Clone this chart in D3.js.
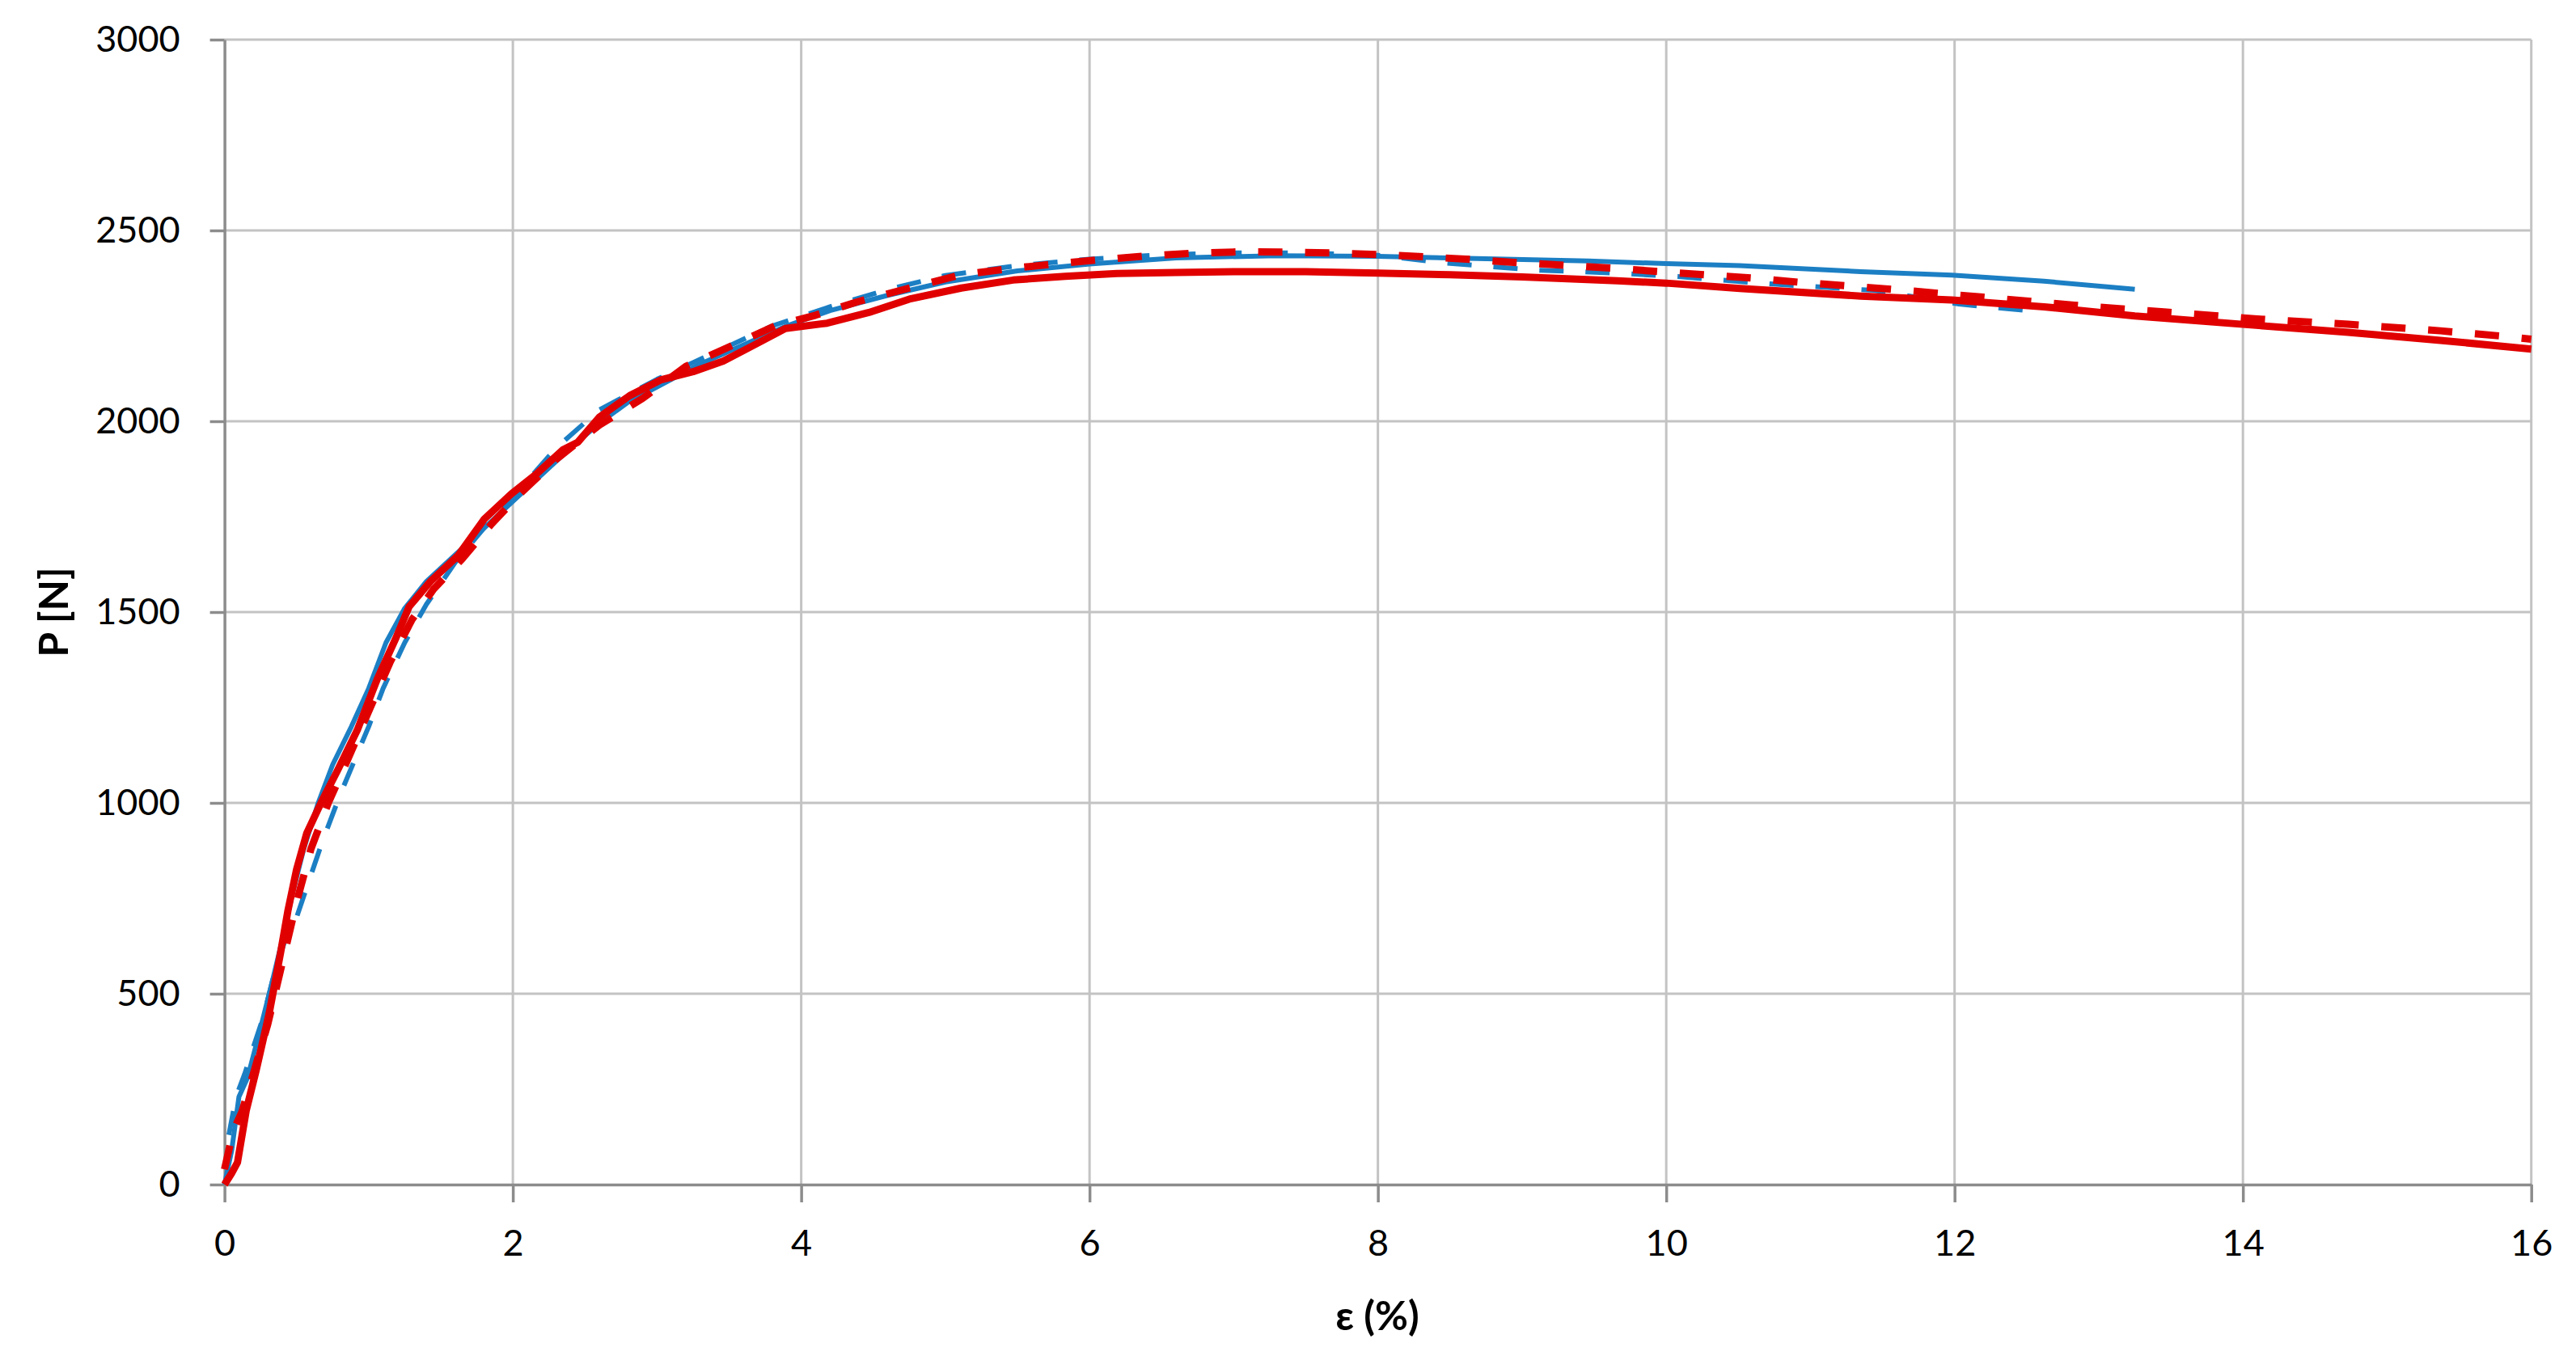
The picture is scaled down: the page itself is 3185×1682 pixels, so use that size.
<!DOCTYPE html>
<html>
<head>
<meta charset="utf-8">
<script src="https://cdn.jsdelivr.net/npm/d3@7"></script>
<style>
  body { margin: 0; background: #fff; }
  svg { display: block; }
  .tick text { font-family: Lato, "Liberation Sans", sans-serif; font-size: 45px; fill: #000; }
  .title { font-family: Lato, "Liberation Sans", sans-serif; font-size: 50px; font-weight: bold; fill: #000; }
</style>
</head>
<body>
<svg id="chart" width="3185" height="1682"></svg>
<script>
// tick values
const xTicks = [0, 2, 4, 6, 8, 10, 12, 14, 16]
const yTicks = [0, 500, 1000, 1500, 2000, 2500, 3000]

// blue solid curve
const blueSolidE = [0, 0.05, 0.1, 0.16, 0.25, 0.33, 0.4, 0.47, 0.55, 0.65, 0.75, 0.88, 1.0, 1.12, 1.25, 1.4, 1.6, 1.8, 2.0, 2.2, 2.4, 2.6, 2.8, 3.0, 3.3, 3.6, 3.9, 4.2, 4.6, 5.0, 5.5, 6.0, 6.6, 7.3, 8.0, 8.75, 9.46, 10.0, 10.51, 11.35, 11.98, 12.62, 13.25]
const blueSolidP = [0, 90, 230, 280, 410, 530, 640, 760, 880, 1000, 1100, 1200, 1300, 1420, 1510, 1580, 1650, 1720, 1790, 1860, 1930, 1995, 2050, 2090, 2150, 2200, 2250, 2290, 2330, 2365, 2394, 2412, 2428, 2434, 2432, 2426, 2420, 2413, 2408, 2392, 2383, 2367, 2346]

// blue dashed curve
const blueDashE = [0.03, 0.08, 0.14, 0.2, 0.27, 0.35, 0.42, 0.5, 0.58, 0.68, 0.8, 0.9, 1.0, 1.1, 1.25, 1.4, 1.6, 1.8, 2.0, 2.3, 2.6, 3.0, 3.4, 3.8, 4.2, 4.6, 5.0, 5.5, 6.0, 6.5, 7.0, 7.5, 8.0, 8.46, 8.79, 9.1, 9.66, 10.08, 10.72, 11.44, 12.03, 12.62]
const blueDashP = [130, 230, 290, 360, 440, 560, 640, 700, 790, 900, 1020, 1110, 1200, 1300, 1420, 1520, 1630, 1720, 1800, 1930, 2030, 2110, 2180, 2250, 2300, 2345, 2382, 2408, 2425, 2436, 2441, 2441, 2435, 2415, 2405, 2396, 2388, 2379, 2360, 2343, 2307, 2286]

// red solid curve
const redSolidE = [0, 0.05, 0.09, 0.15, 0.22, 0.31, 0.39, 0.44, 0.5, 0.57, 0.67, 0.78, 0.92, 1.06, 1.19, 1.28, 1.43, 1.62, 1.8, 1.99, 2.17, 2.35, 2.45, 2.6, 2.81, 3.03, 3.25, 3.46, 3.68, 3.89, 4.18, 4.47, 4.75, 5.11, 5.47, 5.83, 6.19, 6.6, 7.0, 7.5, 8.0, 8.5, 9.0, 9.66, 10.0, 10.51, 11.35, 11.98, 12.62, 13.25, 14.0, 14.73, 15.37, 16.0]
const redSolidP = [0, 30, 58, 193, 300, 449, 610, 718, 826, 920, 1001, 1082, 1190, 1325, 1433, 1514, 1581, 1648, 1743, 1810, 1864, 1926, 1945, 2011, 2067, 2109, 2130, 2158, 2201, 2243, 2257, 2285, 2320, 2349, 2370, 2380, 2387, 2390, 2392, 2392, 2388, 2384, 2378, 2368, 2362, 2348, 2328, 2318, 2300, 2276, 2254, 2233, 2212, 2189]

// red dashed curve
const redDashE = [0.0, 0.06, 0.12, 0.2, 0.3, 0.4, 0.5, 0.6, 0.72, 0.85, 1.0, 1.15, 1.3, 1.45, 1.65, 1.85, 2.05, 2.3, 2.6, 2.9, 3.2, 3.53, 3.82, 4.1, 4.39, 4.75, 5.11, 5.47, 5.83, 6.04, 6.39, 6.71, 7.04, 7.36, 7.68, 8.0, 8.32, 8.64, 9.0, 9.32, 9.64, 9.96, 10.3, 10.6, 10.93, 11.56, 12.2, 12.83, 13.47, 14.1, 14.73, 15.37, 15.83, 16.0]
const redDashP = [40, 140, 190, 290, 420, 580, 740, 880, 1000, 1110, 1240, 1370, 1480, 1560, 1640, 1730, 1810, 1900, 1990, 2060, 2144, 2200, 2250, 2278, 2313, 2349, 2384, 2401, 2415, 2422, 2433, 2440, 2444, 2443, 2441, 2437, 2431, 2424, 2415, 2408, 2401, 2392, 2383, 2375, 2364, 2346, 2325, 2304, 2286, 2268, 2254, 2237, 2222, 2215]

const svg = d3.select('#chart')

const x = d3.scaleLinear()
    .domain([0, 16])
    .range([277.6, 3129.7])
const y = d3.scaleLinear()
    .domain([0, 3000])
    .range([1465, 49])

// grid lines
svg.append('g')
    .selectAll('line')
    .data(yTicks.slice(1))
    .enter()
    .append('line')
        .attr('x1', x(0))
        .attr('x2', x(16))
        .attr('y1', d => y(d))
        .attr('y2', d => y(d))
        .style('stroke', '#c3c3c3')
        .style('stroke-width', 3)
svg.append('g')
    .selectAll('line')
    .data(xTicks.slice(1))
    .enter()
    .append('line')
        .attr('x1', d => x(d))
        .attr('x2', d => x(d))
        .attr('y1', y(0))
        .attr('y2', y(3000))
        .style('stroke', '#c3c3c3')
        .style('stroke-width', 3)

// x axis
const xaxis = d3.axisBottom(x)
    .tickValues(xTicks)
    .tickSize(22)
    .tickSizeOuter(0)
    .tickPadding(34)
    .tickFormat(d3.format('d'))
svg.append('g')
    .attr('transform', `translate(0, ${y(0)})`)
    .call(xaxis)

// y axis
const yaxis = d3.axisLeft(y)
    .tickValues(yTicks)
    .tickSize(18)
    .tickSizeOuter(0)
    .tickPadding(37)
    .tickFormat(d3.format('d'))
svg.append('g')
    .attr('transform', `translate(${x(0)}, 0)`)
    .call(yaxis)

svg.selectAll('.domain, .tick line')
    .style('stroke', '#8c8c8c')
    .style('stroke-width', 3.5)

// curves
const line = d3.line()
    .x(d => x(d[0]))
    .y(d => y(d[1]))

const series = [
    { e: blueSolidE, p: blueSolidP, color: '#1c7fc4', width: 6, dash: null },
    { e: blueDashE, p: blueDashP, color: '#1c7fc4', width: 6, dash: '30,27' },
    { e: redDashE, p: redDashP, color: '#e10000', width: 9, dash: '30,28' },
    { e: redSolidE, p: redSolidP, color: '#e10000', width: 9, dash: null }
]

svg.append('g')
    .selectAll('path')
    .data(series)
    .enter()
    .append('path')
        .attr('d', s => line(s.e.map((v, i) => [v, s.p[i]])))
        .style('fill', 'none')
        .style('stroke', s => s.color)
        .style('stroke-width', s => s.width)
        .style('stroke-dasharray', s => s.dash)
        .style('stroke-linejoin', 'round')

// axis titles
svg.append('text')
    .attr('class', 'title')
    .attr('x', 1703)
    .attr('y', 1645)
    .attr('text-anchor', 'middle')
    .text('ε (%)')
svg.append('text')
    .attr('class', 'title')
    .attr('transform', 'translate(84, 757) rotate(-90)')
    .attr('text-anchor', 'middle')
    .text('P [N]')
</script>
</body>
</html>
